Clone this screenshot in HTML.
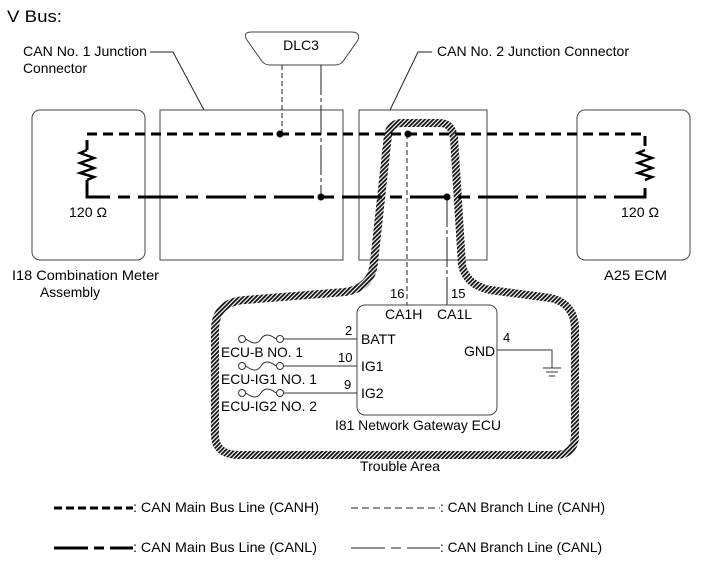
<!DOCTYPE html>
<html><head><style>
html,body{margin:0;padding:0;background:#fff;}
svg{display:block;font-family:"Liberation Sans",Arial,sans-serif;}
text{}
</style></head><body>
<svg width="713" height="581" viewBox="0 0 713 581" xmlns="http://www.w3.org/2000/svg">
<defs>
<pattern id="h" width="3" height="3" patternUnits="userSpaceOnUse" patternTransform="rotate(45)">
<rect width="3" height="3" fill="#fff"/><rect width="1.8" height="3" fill="#111"/>
</pattern>
</defs>
<text x="7" y="22" font-size="17" textLength="55" lengthAdjust="spacingAndGlyphs">V Bus:</text>
<rect x="32" y="110" width="113" height="150" rx="8" fill="none" stroke="#444" stroke-width="1"/>
<rect x="160" y="110" width="183" height="150" fill="none" stroke="#444" stroke-width="1"/>
<rect x="359" y="110" width="128" height="150" fill="none" stroke="#444" stroke-width="1"/>
<rect x="577" y="110" width="113" height="150" rx="8" fill="none" stroke="#444" stroke-width="1"/>
<path d="M252,32 L351,32 Q361,32 358,40 L344,60 Q341,65 335,65 L270,65 Q264,65 261,60 L247,40 Q242,32 252,32 Z" fill="#fff" stroke="#444" stroke-width="1"/>
<text x="301" y="50" font-size="14" text-anchor="middle">DLC3</text>
<text x="23" y="56" font-size="14" textLength="124" lengthAdjust="spacingAndGlyphs">CAN No. 1 Junction</text>
<text x="23" y="73" font-size="14" textLength="64" lengthAdjust="spacingAndGlyphs">Connector</text>
<polyline points="150,52 173,52 204,110" fill="none" stroke="#222" stroke-width="1"/>
<text x="437" y="56" font-size="14" textLength="192" lengthAdjust="spacingAndGlyphs">CAN No. 2 Junction Connector</text>
<polyline points="432,52 418,52 390,110" fill="none" stroke="#222" stroke-width="1"/>
<line x1="282" y1="65" x2="282" y2="134" stroke="#222" stroke-width="1" stroke-dasharray="5,3"/>
<line x1="321" y1="65" x2="321" y2="197" stroke="#222" stroke-width="1" stroke-dasharray="30,3,4,3"/>
<path d="M388,135 Q390,123 402,123 L440,123 Q452,123 454,138 L462,265 Q466,285 490,290 L550,298 Q575,303 575,330 L575,435 Q575,455 555,455 L240,455 Q215,455 215,435 L215,330 Q215,302 245,300 L345,292 Q372,288 374,262 Z" fill="none" stroke="url(#h)" stroke-width="8"/>
<polyline points="87,150 87,134 645,134 645,150" fill="none" stroke="#000" stroke-width="3" stroke-dasharray="10,6"/>
<polyline points="87,180 87,197 645,197 645,180" fill="none" stroke="#000" stroke-width="3" stroke-dasharray="40,8,12,8"/>
<polyline points="87,150 80,153 94,158 80,163 94,168 80,173 94,177 87,180" fill="none" stroke="#000" stroke-width="2.5"/>
<polyline points="645,150 638,153 652,158 638,163 652,168 638,173 652,177 645,180" fill="none" stroke="#000" stroke-width="2.5"/>
<text x="69" y="217" font-size="14" textLength="38" lengthAdjust="spacingAndGlyphs">120 Ω</text>
<text x="621" y="217" font-size="14" textLength="38" lengthAdjust="spacingAndGlyphs">120 Ω</text>
<line x1="407" y1="134" x2="407" y2="305" stroke="#222" stroke-width="1" stroke-dasharray="5,3"/>
<line x1="447" y1="197" x2="447" y2="305" stroke="#222" stroke-width="1" stroke-dasharray="30,3,4,3"/>
<circle cx="280" cy="134" r="3.5" fill="#000"/>
<circle cx="321" cy="197" r="3.5" fill="#000"/>
<circle cx="408" cy="134" r="3.5" fill="#000"/>
<circle cx="447" cy="197" r="3.5" fill="#000"/>
<text x="12" y="280" font-size="14" textLength="147" lengthAdjust="spacingAndGlyphs">I18  Combination Meter</text>
<text x="40" y="297" font-size="14" textLength="60" lengthAdjust="spacingAndGlyphs">Assembly</text>
<text x="604" y="280" font-size="14" textLength="63" lengthAdjust="spacingAndGlyphs">A25  ECM</text>
<rect x="357" y="305" width="140" height="110" rx="8" fill="#fff" stroke="#444" stroke-width="1"/>
<text x="390" y="298" font-size="13">16</text>
<text x="451" y="298" font-size="13">15</text>
<text x="385" y="319" font-size="14">CA1H</text>
<text x="437" y="319" font-size="14">CA1L</text>
<text x="361" y="344" font-size="14">BATT</text>
<text x="361" y="371" font-size="14">IG1</text>
<text x="361" y="398" font-size="14">IG2</text>
<text x="464" y="356" font-size="14">GND</text>
<text x="345" y="335" font-size="13">2</text>
<text x="338" y="362" font-size="13">10</text>
<text x="344" y="389" font-size="13">9</text>
<text x="503" y="342" font-size="13">4</text>
<g fill="#fff" stroke="#333" stroke-width="1">
<circle cx="242" cy="339" r="3.5"/><circle cx="280" cy="339" r="3.5"/>
<circle cx="242" cy="366" r="3.5"/><circle cx="280" cy="366" r="3.5"/>
<circle cx="242" cy="393" r="3.5"/><circle cx="280" cy="393" r="3.5"/>
<path d="M246,339 Q256,347 261,339 Q266,331 276,339" fill="none"/>
<path d="M246,366 Q256,374 261,366 Q266,358 276,366" fill="none"/>
<path d="M246,393 Q256,401 261,393 Q266,385 276,393" fill="none"/>
</g>
<g stroke="#333" stroke-width="1">
<line x1="284" y1="339" x2="357" y2="339"/>
<line x1="284" y1="366" x2="357" y2="366"/>
<line x1="284" y1="393" x2="357" y2="393"/>
<polyline points="497,350 552,350 552,368" fill="none"/>
<line x1="543" y1="368" x2="561" y2="368"/>
<line x1="546" y1="372" x2="558" y2="372"/>
<line x1="549" y1="376" x2="555" y2="376"/>
</g>
<text x="221" y="357" font-size="14" textLength="82" lengthAdjust="spacingAndGlyphs">ECU-B NO. 1</text>
<text x="221" y="384" font-size="14" textLength="96" lengthAdjust="spacingAndGlyphs">ECU-IG1 NO. 1</text>
<text x="221" y="411" font-size="14" textLength="96" lengthAdjust="spacingAndGlyphs">ECU-IG2 NO. 2</text>
<text x="335" y="430" font-size="14" textLength="166" lengthAdjust="spacingAndGlyphs">I81  Network Gateway ECU</text>
<text x="360" y="471" font-size="14" textLength="80" lengthAdjust="spacingAndGlyphs">Trouble Area</text>
<line x1="54" y1="508" x2="133" y2="508" stroke="#000" stroke-width="3" stroke-dasharray="8,4"/>
<text x="133" y="512" font-size="14" textLength="186" lengthAdjust="spacingAndGlyphs">: CAN Main Bus Line (CANH)</text>
<line x1="351" y1="508" x2="440" y2="508" stroke="#222" stroke-width="1" stroke-dasharray="7,4"/>
<text x="440" y="512" font-size="14" textLength="165" lengthAdjust="spacingAndGlyphs">: CAN Branch Line (CANH)</text>
<line x1="54" y1="548" x2="133" y2="548" stroke="#000" stroke-width="3" stroke-dasharray="34,6,10,6"/>
<text x="133" y="552" font-size="14" textLength="184" lengthAdjust="spacingAndGlyphs">: CAN Main Bus Line (CANL)</text>
<line x1="351" y1="548" x2="440" y2="548" stroke="#222" stroke-width="1" stroke-dasharray="34,6,10,6"/>
<text x="440" y="552" font-size="14" textLength="162" lengthAdjust="spacingAndGlyphs">: CAN Branch Line (CANL)</text>
</svg>
</body></html>
